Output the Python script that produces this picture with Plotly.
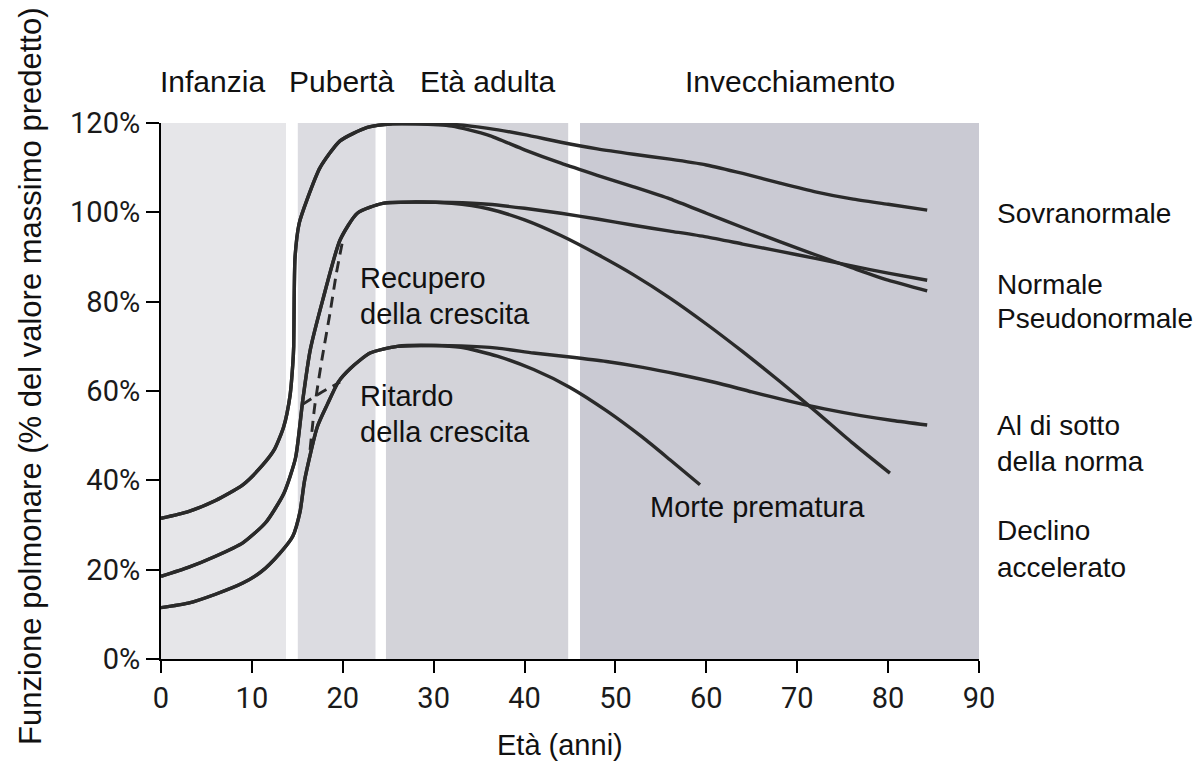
import plotly.graph_objects as go

# ---------------- data ----------------
# phase bands (age ranges)
band_names = ["Infanzia", "Pubertà", "Età adulta", "Invecchiamento"]
band_start = [0, 15.05, 24.75, 46.1]
band_end = [13.75, 23.6, 44.8, 90]
band_top = 120
band_colors = ["#e6e6e9", "#dcdce1", "#d3d3d9", "#cacad3"]

# trunk curves (growth phase)
trunk_a_age = [0, 3, 6, 9, 11, 12.5, 13.5, 14.2, 14.5, 14.6, 14.65, 14.75, 15.2, 16.1, 17.5, 19.7, 22.7, 25.5, 28]
trunk_a_val = [31.5, 33, 35.5, 39, 43, 47, 52, 59, 66, 70, 80, 90, 97.5, 103, 110, 116, 119, 119.8, 119.8]

trunk_b_age = [0, 3, 6, 9, 11.5, 13.5, 14.8, 15.6, 16.4, 17.8, 19.7, 21.6, 24.4, 28]
trunk_b_val = [18.5, 20.5, 23, 26, 30.5, 37, 45, 58, 69, 80.4, 93.8, 99.8, 102, 102.3]

trunk_c_age = [0, 3, 6, 9, 11, 13, 14.5, 15.3, 15.8, 17.2, 18.3, 19.5, 20.8, 23, 26, 30]
trunk_c_val = [11.5, 12.5, 14.5, 17, 19.5, 23.5, 27.5, 33, 40, 52, 57, 62, 65, 68.5, 70, 70.2]

# ageing branches
sovra_age = [32, 36, 40, 44, 48, 52, 56, 60, 64, 68, 72, 76, 80, 84.3]
sovra_val = [119.7, 118.8, 117.4, 115.7, 114.2, 113, 111.9, 110.6, 108.7, 106.6, 104.6, 103, 101.8, 100.5]

pseudo_age = [32, 36, 40, 44, 48, 52, 56, 60, 64, 68, 72, 76, 80, 84.3]
pseudo_val = [119.3, 117.3, 114, 111, 108.3, 105.7, 103, 99.8, 96.6, 93.5, 90.5, 87.6, 84.8, 82.4]

normale_age = [32, 36, 40, 44, 48, 52, 56, 60, 64, 68, 72, 76, 80, 84.3]
normale_val = [102.2, 101.8, 100.9, 99.8, 98.5, 97.1, 95.8, 94.5, 92.9, 91.3, 89.7, 88, 86.4, 84.8]

declino_age = [32, 36, 40, 44, 48, 52, 56, 60, 64, 68, 72, 76, 80.2]
declino_val = [102, 100.8, 98.3, 94.8, 90.6, 86, 80.8, 75, 68.8, 62.3, 55.5, 48.5, 41.6]

sotto_age = [33, 37, 41, 45, 49, 53, 57, 61, 65, 69, 73, 77, 80.5, 84.3]
sotto_val = [70.1, 69.6, 68.5, 67.6, 66.6, 65.3, 63.7, 61.9, 59.8, 57.8, 56, 54.5, 53.4, 52.4]

morte_age = [33, 37, 41, 45, 49, 53, 56, 59.3]
morte_val = [69.8, 67.8, 64.8, 60.8, 55.6, 49.6, 44.6, 39]

# dashed transitions
recupero_age = [16.4, 16.9, 17.7, 18.6, 19.3, 20.0]
recupero_val = [46.8, 56.4, 67, 77.5, 86.4, 93.8]

ritardo_age = [15.5, 17.5, 19.7]
ritardo_val = [56.9, 59.5, 62]

x_ticks = [0, 10, 20, 30, 40, 50, 60, 70, 80, 90]
y_ticks = [0, 20, 40, 60, 80, 100, 120]
y_tick_labels = [f"{v}%" for v in y_ticks]

right_labels = ["Sovranormale", "Normale", "Pseudonormale", "Al di sotto", "della norma", "Declino", "accelerato"]

# ---------------- figure ----------------
OFF = 8  # page body margin
W, H = 1201, 767
# desired plot area in page pixels: x 161..979, y 123..659
L = 161 - OFF
T = 123 - OFF
R = W - (979 - OFF)
B = H - (659 - OFF)
pw, ph = W - L - R, H - T - B


def px(xp):  # page pixel -> paper x
    return (xp - OFF - L) / pw


def py(yp):  # page pixel -> paper y
    return (H - B - (yp - OFF)) / ph


fig = go.Figure()

line_col = "#2a2a2a"
lw = 3.4


def add_curve(ages, vals, dash=None, width=lw):
    fig.add_trace(go.Scatter(
        x=ages, y=vals, mode="lines",
        line=dict(color=line_col, width=width, shape="spline", smoothing=0.6,
                  dash=dash if dash else "solid"),
        hoverinfo="skip", showlegend=False))


for ta, tv, branches in [
    (trunk_a_age, trunk_a_val, [(sovra_age, sovra_val), (pseudo_age, pseudo_val)]),
    (trunk_b_age, trunk_b_val, [(normale_age, normale_val), (declino_age, declino_val)]),
    (trunk_c_age, trunk_c_val, [(sotto_age, sotto_val), (morte_age, morte_val)]),
]:
    for ba, bv in branches:
        add_curve(ta + ba, tv + bv)

add_curve(recupero_age, recupero_val, dash="11px,7px", width=2.9)
add_curve(ritardo_age, ritardo_val, dash="11px,7px", width=2.9)

# bands
for s, e, c in zip(band_start, band_end, band_colors):
    fig.add_shape(type="rect", xref="x", yref="y", x0=s, x1=e, y0=0, y1=band_top,
                  fillcolor=c, line_width=0, layer="below")

font_main = "Liberation Sans, Arial, sans-serif"
txt_col = "#111111"
annos = []

# band titles
for name, xc in zip(band_names, [212, 341, 487, 790]):
    annos.append(dict(text=name, x=px(xc), y=py(82), xref="paper", yref="paper",
                      xanchor="center", yanchor="middle", showarrow=False,
                      font=dict(family=font_main, size=30, color=txt_col)))

# right-side labels
for name, yc in zip(right_labels, [213, 284, 318, 425, 461, 530, 567]):
    annos.append(dict(text=name, x=px(995), y=py(yc), xref="paper", yref="paper",
                      xanchor="left", yanchor="middle", showarrow=False,
                      font=dict(family=font_main, size=28, color=txt_col)))

# in-plot labels
for name, xl, yc in [("Recupero", 358, 278), ("della crescita", 358, 314),
                     ("Ritardo", 358, 396), ("della crescita", 358, 432),
                     ("Morte prematura", 648, 507)]:
    annos.append(dict(text=name, x=px(xl), y=py(yc), xref="paper", yref="paper",
                      xanchor="left", yanchor="middle", showarrow=False,
                      font=dict(family=font_main, size=29, color=txt_col)))

# axis titles
annos.append(dict(text="Età (anni)", x=px(560), y=py(745), xref="paper", yref="paper",
                  xanchor="center", yanchor="middle", showarrow=False,
                  font=dict(family=font_main, size=29, color=txt_col)))
annos.append(dict(text="Funzione polmonare (% del valore massimo predetto)",
                  x=px(30), y=py(377), xref="paper", yref="paper", textangle=-90,
                  xanchor="center", yanchor="middle", showarrow=False,
                  font=dict(family=font_main, size=31, color=txt_col)))

tick_font = dict(family="Roboto, sans-serif", size=29, color="#1a1a1a")

fig.update_layout(
    width=W, height=H,
    margin=dict(l=L, r=R, t=T, b=B, pad=0),
    paper_bgcolor="white", plot_bgcolor="white",
    showlegend=False,
    annotations=annos,
    xaxis=dict(range=[0, 90], tickvals=x_ticks, ticks="outside", ticklen=12, tickwidth=2,
               tickcolor="black", showline=True, linecolor="black", linewidth=2,
               showgrid=False, zeroline=False, tickfont=tick_font, fixedrange=True),
    yaxis=dict(range=[0, 120], tickvals=y_ticks, ticktext=y_tick_labels, ticks="outside",
               ticklen=13, tickwidth=2, tickcolor="black", showline=True, linecolor="black",
               linewidth=2, showgrid=False, zeroline=False, tickfont=tick_font, fixedrange=True),
)

fig.write_html("out.html")
